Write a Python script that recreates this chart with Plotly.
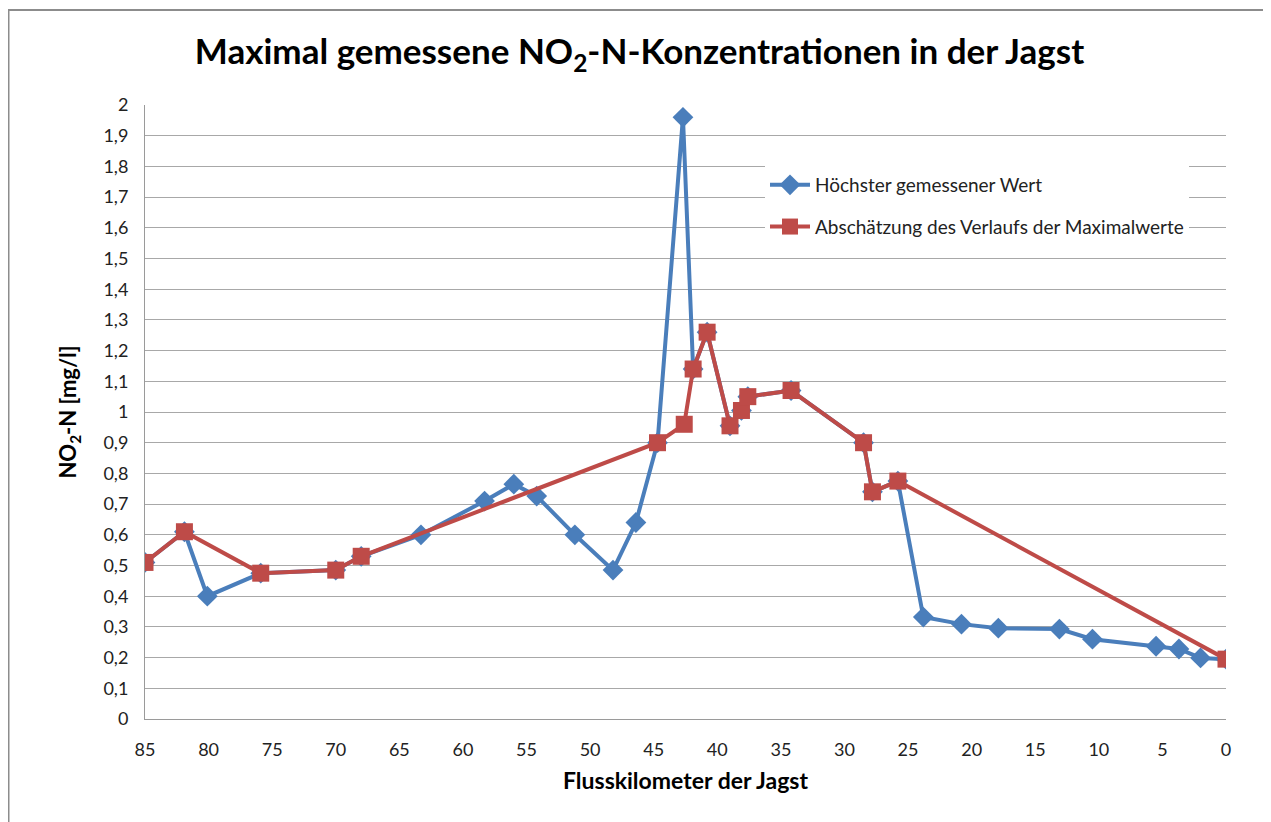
import plotly.graph_objects as go

# Flusskilometer und gemessene Maximalwerte (NO2-N, mg/l)
km_messung = [85, 81.9, 80.1, 75.9, 70.0, 68.0, 63.3, 58.3, 56.0, 54.2, 51.2, 48.2,
              46.4, 44.7, 42.7, 41.9, 40.8, 39.0, 38.1, 37.6, 34.2, 28.5, 27.8, 25.8,
              23.8, 20.8, 17.9, 13.1, 10.5, 5.5, 3.7, 2.0, 0]
wert_messung = [0.51, 0.61, 0.40, 0.475, 0.485, 0.53, 0.60, 0.71, 0.765, 0.726, 0.60, 0.485,
                0.64, 0.90, 1.96, 1.14, 1.26, 0.955, 1.005, 1.05, 1.07, 0.90, 0.74, 0.775,
                0.332, 0.309, 0.296, 0.293, 0.26, 0.237, 0.228, 0.199, 0.195]

km_schaetzung = [85, 81.9, 75.9, 70.0, 68.0, 44.7, 42.6, 41.9, 40.8, 39.0, 38.1, 37.6,
                 34.2, 28.5, 27.8, 25.8, 0]
wert_schaetzung = [0.51, 0.61, 0.475, 0.485, 0.53, 0.90, 0.96, 1.14, 1.26, 0.955, 1.005,
                   1.05, 1.07, 0.90, 0.74, 0.775, 0.195]

blau = '#4A7EBB'
rot = '#BE4B48'
font = 'Lato'

# the page adds an 8px body margin, so the figure is a bit smaller
W, H = 1263, 814
L, T, R, B = 137, 97, 45, 103
pw, ph = W - L - R, H - T - B

fig = go.Figure()
fig.add_trace(go.Scatter(
    x=km_messung, y=wert_messung,
    mode='lines+markers',
    name='Höchster gemessener Wert',
    legendgroup='a',
    line=dict(color=blau, width=4),
    marker=dict(symbol='diamond', size=16, color=blau)
))
fig.add_trace(go.Scatter(
    x=km_schaetzung, y=wert_schaetzung,
    mode='lines+markers',
    name='Abschätzung des Verlaufs der Maximalwerte',
    legendgroup='b',
    line=dict(color=rot, width=4),
    marker=dict(symbol='square', size=17, color=rot)
))

fig.update_layout(
    width=W, height=H,
    margin=dict(l=L, r=R, t=T, b=B),
    paper_bgcolor='white', plot_bgcolor='white',
    separators=', ',
    font=dict(family=font, size=18, color='#222222'),
    title=dict(
        text='<b>Maximal gemessene NO<sub>2</sub>-N-Konzentrationen in der Jagst</b>',
        x=0.5, xanchor='center', y=(H - 44) / H, yanchor='middle',
        font=dict(family=font, size=35, color='black')
    ),
    xaxis=dict(
        range=[85, 0], dtick=5, tick0=0,
        showgrid=False, zeroline=False,
        showline=True, linecolor='#9A9A9A', linewidth=1,
        ticks='', ticklabelstandoff=14,
        tickfont=dict(size=18),
        title=dict(text='<b>Flusskilometer der Jagst</b>', font=dict(size=23, color='black'), standoff=14)
    ),
    yaxis=dict(
        range=[0, 2], dtick=0.1, tick0=0,
        showgrid=True, gridcolor='#A8A8A8', gridwidth=1,
        zeroline=False,
        showline=True, linecolor='#9A9A9A', linewidth=1,
        ticks='', ticklabelstandoff=12,
        tickfont=dict(size=18),
        title=dict(text='<b>NO<sub>2</sub>-N [mg/l]</b>', font=dict(size=22, color='black'), standoff=20)
    ),
    legend=dict(
        x=(757 - L) / pw, y=(711 - 158) / ph, xanchor='left', yanchor='top',
        bgcolor='white', borderwidth=0,
        traceorder='grouped', tracegroupgap=14,
        font=dict(size=19, color='#222222'),
        itemwidth=40
    ),
    showlegend=True
)

# Rahmen des Diagramms
fig.add_shape(type='rect', xref='paper', yref='paper',
              x0=(0.5 - L) / pw, x1=1.2, y0=-0.3, y1=(H - B - 2) / ph,
              line=dict(color='#8C8C8C', width=2), fillcolor='rgba(0,0,0,0)', layer='below')

fig.write_html('out.html')
